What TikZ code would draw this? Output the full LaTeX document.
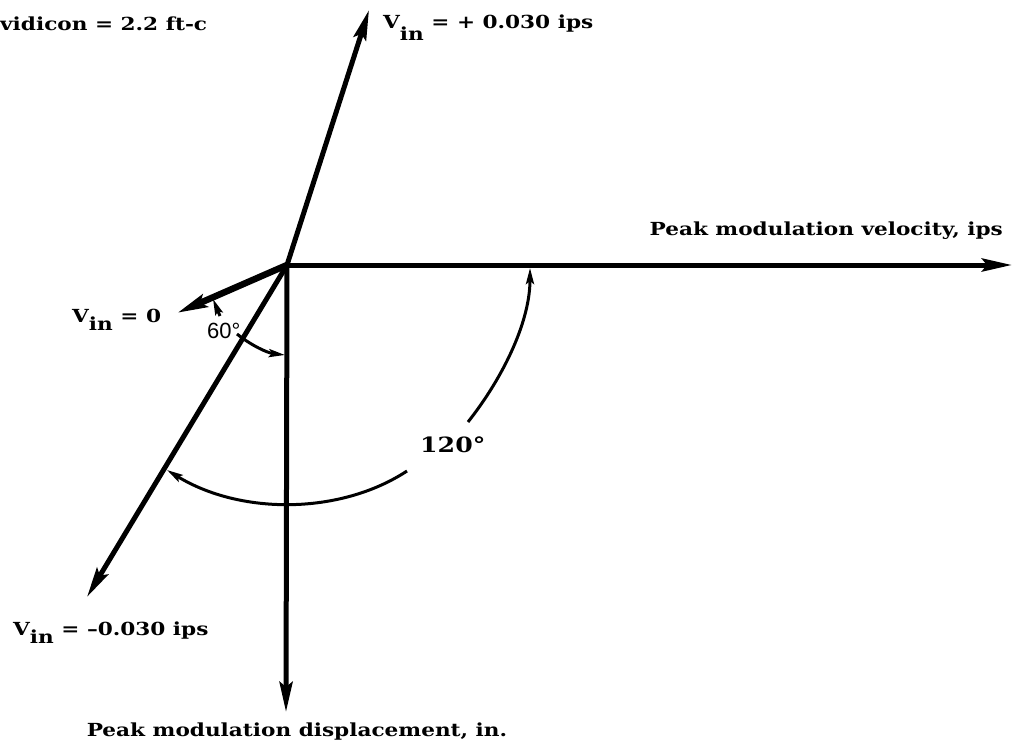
\documentclass[tikz,border=0pt]{standalone}
\usepackage{fontspec}
\setmainfont{DejaVu Serif}[FakeStretch=1.2]
\newfontfamily\sansf{Liberation Sans}
\usetikzlibrary{arrows.meta}
\newcommand\Vin[1][8pt]{V\raisebox{-#1}{in}}
\begin{document}
\begin{tikzpicture}[x=1pt,y=-1pt,
  axis/.style={line width=5pt, -{Stealth[length=30pt,width=13pt,inset=5pt]}},
  dimarc/.style={line width=3pt, -{Stealth[length=16pt,width=8pt,inset=3pt]}},
  lbl/.style={inner sep=0pt, font=\bfseries\fontsize{18}{20}\selectfont},
]
\useasboundingbox (0,0) rectangle (1018,745);
\coordinate (O) at (287,265);
\coordinate (tipR) at (1012,265);
\coordinate (tipD) at (286,712);
\coordinate (tipU) at (369,10);
\coordinate (tipDL) at (87,597);
\coordinate (tip0) at (177,313);

\draw[axis] (O) -- (tipR);
\draw[axis] (O) -- (tipD);
\draw[axis] (O) -- (tipU);
\draw[axis] (O) -- (tipDL);
\draw[axis, line width=6.5pt] (O) -- (tip0);

% 60 degree arc
\coordinate (s60a) at (220,316);
\coordinate (e60a) at (213,299);
\coordinate (s60b) at (237,334);
\coordinate (e60b) at (285,355);
\draw[dimarc] (s60a) -- (e60a);
\draw[dimarc] (s60b) .. controls (252,346) and (268,353) .. (e60b);

% 120 degree arcs
\coordinate (s120a) at (468,422);
\coordinate (e120a) at (530,268);
\coordinate (s120b) at (407,471);
\coordinate (e120b) at (167,470);
\draw[dimarc] (s120a) .. controls (505,375) and (530,320) .. (e120a);
\draw[dimarc] (s120b) .. controls (340,515) and (240,515) .. (e120b);

\node[lbl, anchor=base west] (vid) at (0,30) {vidicon = 2.2 ft-c};
\node[lbl, anchor=base west] (vp) at (383,28) {\Vin[12pt] = + 0.030 ips};
\node[lbl, anchor=base east] (vel) at (1003,235) {Peak modulation velocity, ips};
\node[lbl, anchor=base west] (v0) at (72,322) {\Vin{} = 0};
\node[lbl, anchor=base west] (vm) at (13,635) {\Vin{} = –0.030 ips};
\node[lbl, anchor=base] (disp) at (297,736) {Peak modulation displacement, in.};
\node[lbl, anchor=base west, font=\sansf\fontsize{22}{24}\selectfont] (a60) at (207,338) {60°};
\node[lbl, anchor=base west, font=\bfseries\fontsize{21}{24}\selectfont] (a120) at (420,452) {120°};
\end{tikzpicture}
\end{document}
